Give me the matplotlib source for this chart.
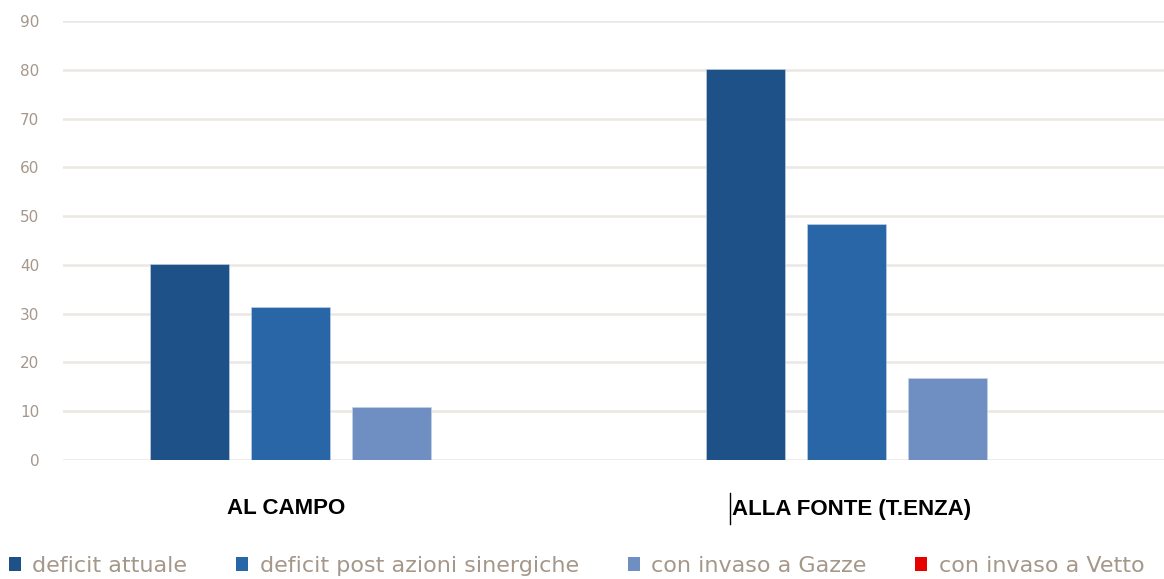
import matplotlib
matplotlib.use("Agg")
import matplotlib.pyplot as plt
import numpy as np
from matplotlib.patches import Patch
from matplotlib.transforms import blended_transform_factory
from matplotlib.lines import Line2D

categories = ["AL CAMPO", "ALLA FONTE (T.ENZA)"]
series_names = ["deficit attuale", "deficit post azioni sinergiche",
                "con invaso a Gazze", "con invaso a Vetto"]
deficit_attuale = [40.1, 80.2]
deficit_post = [31.4, 48.4]
invaso_gazze = [10.9, 16.8]
invaso_vetto = [0.0, 0.0]
y_ticks = [0, 10, 20, 30, 40, 50, 60, 70, 80, 90]

series = [deficit_attuale, deficit_post, invaso_gazze, invaso_vetto]
colors = ["#1F5189", "#2966A8", "#6F8FC3", "#E60000"]

W, H = 1164, 579
fig = plt.figure(figsize=(W / 100, H / 100), dpi=100)
ax = fig.add_axes([63 / W, (H - 460) / H, (W - 63) / W, (460 - 21) / H])

x = np.arange(len(categories))
step = 0.1817
width = 0.142
for k, (vals, c) in enumerate(zip(series, colors)):
    ax.bar(x + (k - 1.5) * step, vals, width=width, color=c, zorder=3,
           edgecolor="#c9d6e8", linewidth=0.4)

ax.set_xlim(-0.5, 1.48)
ax.set_ylim(0, 90)
ax.set_yticks(y_ticks)
ax.set_yticklabels([str(t) for t in y_ticks])
ax.set_xticks([])
ax.grid(axis="y", color="#ebe7e3", linewidth=1.8, zorder=0)
for s in ax.spines.values():
    s.set_visible(False)
ax.tick_params(axis="y", length=0, pad=17, labelsize=11, labelcolor="#a5978a")

# category labels below the axis
trans = blended_transform_factory(ax.transData, fig.transFigure)
label_x = [-0.099, 0.919]
for lx, cat in zip(label_x, categories):
    ax.text(lx, (H - 509) / H, cat, transform=trans, ha="center", va="center",
            fontsize=16, fontweight="bold", family="Liberation Sans",
            color="#000000")
# text cursor artifact
fig.add_artist(Line2D([730 / W, 730 / W], [(H - 493) / H, (H - 524) / H],
                      color="black", linewidth=1.0))

handles = [Patch(facecolor=c, edgecolor="none") for c in colors]
leg = fig.legend(handles, series_names, loc="center left",
                 bbox_to_anchor=(9 / W, (H - 566) / H), ncol=4, frameon=False,
                 borderpad=0, borderaxespad=0, handlelength=0.55,
                 handleheight=0.55, handletextpad=0.5, columnspacing=2.2,
                 prop={"family": "DejaVu Sans", "size": 16})
for t in leg.get_texts():
    t.set_color("#a5978a")

fig.savefig("out.png", dpi=100)
